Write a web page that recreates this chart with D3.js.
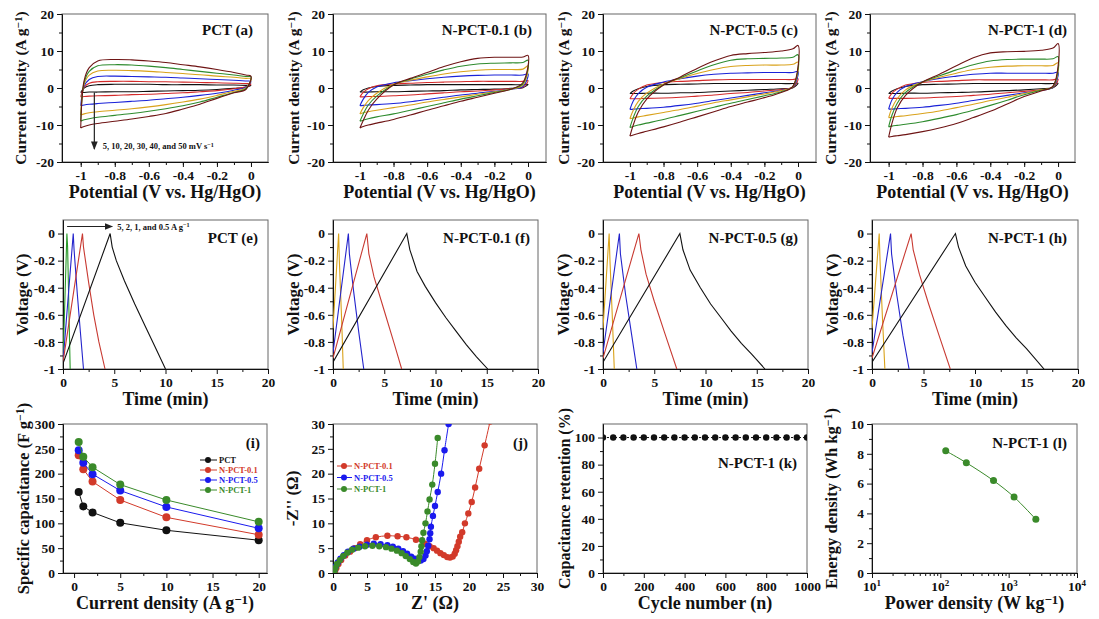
<!DOCTYPE html>
<html>
<head>
<meta charset="utf-8">
<script src="https://cdn.jsdelivr.net/npm/d3@7"></script>
<style>
  body { margin: 0; background: #fff; }
  text { font-family: "Liberation Serif", "Times New Roman", serif; font-weight: bold; }
</style>
</head>
<body>
<script>
// ---------- data ----------
// CV: potential grid (V vs Hg/HgO); anodic (up) and cathodic (down) current, order 5,10,20,30,40,50 mV/s
const cvE = [-1, -0.98, -0.95, -0.9, -0.8, -0.7, -0.6, -0.5, -0.4, -0.3, -0.2, -0.1, -0.03, 0];
const scanRates = [5, 10, 20, 30, 40, 50];

const cvPCT_up = [
  [-1.2, 0, 0.6, 0.9, 1.0, 1.0, 1.0, 0.9, 0.9, 0.9, 0.8, 0.8, 0.7, 0.7],
  [-2.4, 0.2, 1.3, 1.7, 1.8, 1.8, 1.7, 1.7, 1.6, 1.5, 1.4, 1.3, 1.2, 1.1],
  [-4.8, 0.5, 2.3, 3.1, 3.2, 3.1, 3.0, 2.9, 2.7, 2.5, 2.3, 2.1, 1.9, 1.8],
  [-7.3, 1.0, 3.5, 4.6, 4.8, 4.7, 4.5, 4.2, 3.9, 3.6, 3.2, 2.9, 2.6, 2.5],
  [-9.0, 1.5, 4.5, 6.0, 6.3, 6.2, 5.9, 5.5, 5.0, 4.5, 4.0, 3.5, 3.1, 3.0],
  [-10.8, 2.0, 5.5, 7.3, 7.7, 7.6, 7.3, 6.9, 6.3, 5.7, 5.0, 4.2, 3.5, 3.2]
];
const cvPCT_down = [
  [-1.2, -1.2, -1.1, -1.1, -1.0, -1.0, -0.9, -0.8, -0.7, -0.6, -0.4, -0.1, 0.2, 0.7],
  [-2.4, -2.3, -2.2, -2.1, -2.0, -1.8, -1.7, -1.5, -1.3, -1.0, -0.7, -0.2, 0.3, 1.1],
  [-4.8, -4.6, -4.4, -4.2, -3.9, -3.6, -3.3, -2.9, -2.5, -2.0, -1.4, -0.6, 0.2, 1.8],
  [-7.3, -7.0, -6.7, -6.4, -6.0, -5.6, -5.1, -4.5, -3.8, -3.0, -2.0, -0.9, 0.0, 2.5],
  [-9.0, -8.6, -8.3, -7.9, -7.4, -6.9, -6.3, -5.6, -4.8, -3.8, -2.5, -1.2, -0.2, 3.0],
  [-10.8, -10.4, -10.0, -9.6, -9.0, -8.4, -7.7, -6.9, -5.7, -4.4, -2.8, -1.3, -0.4, 3.2]
];

const cvN01_up = [
  [-1.1, -0.5, 0, 0.4, 0.7, 0.8, 0.9, 0.9, 0.9, 0.9, 0.9, 0.9, 0.9, 1.0],
  [-2.4, -1.2, -0.2, 0.6, 1.1, 1.3, 1.5, 1.6, 1.7, 1.8, 1.8, 1.8, 1.8, 2.0],
  [-4.8, -3.0, -1.2, 0.3, 1.4, 2.0, 2.5, 2.9, 3.2, 3.4, 3.5, 3.5, 3.5, 3.8],
  [-7.0, -5.3, -3.4, -1.4, 1.0, 2.1, 3.0, 3.8, 4.4, 4.8, 5.0, 5.0, 5.1, 6.0],
  [-9.0, -7.0, -4.6, -2.2, 0.9, 2.4, 3.7, 4.9, 5.9, 6.5, 6.7, 6.8, 6.9, 7.5],
  [-10.8, -8.8, -6.0, -3.0, 0.8, 2.6, 4.2, 5.8, 7.1, 8.0, 8.3, 8.3, 8.4, 8.8]
];
const cvN01_down = [
  [-1.1, -1.1, -1.1, -1.0, -1.0, -0.9, -0.8, -0.7, -0.5, -0.4, -0.3, -0.1, 0.1, 1.0],
  [-2.4, -2.4, -2.3, -2.3, -2.1, -1.9, -1.6, -1.3, -1.0, -0.8, -0.5, -0.2, 0.2, 2.0],
  [-4.8, -4.7, -4.6, -4.5, -4.2, -3.7, -3.1, -2.5, -1.9, -1.4, -0.9, -0.3, 0.4, 3.8],
  [-7.0, -6.7, -6.4, -6.0, -5.3, -4.6, -3.8, -3.1, -2.4, -1.7, -1.0, -0.3, 0.8, 6.0],
  [-9.0, -8.7, -8.3, -7.8, -7.0, -6.0, -5.0, -4.0, -3.0, -2.1, -1.2, -0.3, 1.2, 7.5],
  [-10.8, -10.4, -10.0, -9.5, -8.5, -7.3, -6.0, -4.8, -3.6, -2.5, -1.4, -0.3, 1.5, 8.8]
];

const cvN05_up = [
  [-1.5, -0.8, -0.2, 0.4, 0.9, 1.0, 1.1, 1.2, 1.2, 1.2, 1.2, 1.2, 1.2, 1.3],
  [-2.9, -1.5, -0.3, 0.8, 1.5, 1.8, 2.0, 2.2, 2.3, 2.3, 2.3, 2.3, 2.3, 2.5],
  [-5.8, -3.5, -1.5, 0.2, 1.6, 2.5, 3.2, 3.7, 4.0, 4.1, 4.2, 4.2, 4.2, 4.5],
  [-8.3, -6.0, -3.6, -1.4, 1.1, 2.6, 3.9, 5.0, 5.8, 6.1, 6.2, 6.2, 6.4, 7.0],
  [-10.7, -8.0, -5.0, -2.2, 0.9, 2.8, 4.6, 6.3, 7.5, 7.9, 8.0, 8.1, 8.3, 9.0],
  [-13.0, -10.0, -6.5, -3.0, 0.8, 3.0, 5.3, 7.3, 8.8, 9.3, 9.6, 10.0, 10.6, 11.5]
];
const cvN05_down = [
  [-1.5, -1.5, -1.5, -1.4, -1.4, -1.3, -1.2, -1.0, -0.8, -0.6, -0.4, -0.2, 0.1, 1.3],
  [-2.9, -2.9, -2.9, -2.8, -2.7, -2.5, -2.2, -1.9, -1.5, -1.2, -0.8, -0.4, 0.2, 2.5],
  [-5.8, -5.7, -5.6, -5.5, -5.2, -4.7, -4.1, -3.4, -2.7, -2.0, -1.3, -0.6, 0.3, 4.5],
  [-8.3, -8.1, -7.8, -7.4, -6.6, -5.8, -4.9, -4.0, -3.2, -2.4, -1.6, -0.7, 0.4, 7.0],
  [-10.7, -10.4, -10.0, -9.5, -8.5, -7.4, -6.3, -5.2, -4.1, -3.1, -2.1, -1.0, 0.4, 9.0],
  [-13.0, -12.7, -12.3, -11.7, -10.5, -9.2, -7.8, -6.4, -5.0, -3.8, -2.6, -1.2, 0.5, 11.5]
];

const cvN1_up = [
  [-1.5, -0.8, -0.2, 0.4, 0.9, 1.0, 1.1, 1.2, 1.2, 1.2, 1.2, 1.2, 1.2, 1.3],
  [-2.8, -1.4, -0.3, 0.8, 1.5, 1.8, 2.0, 2.2, 2.2, 2.2, 2.2, 2.2, 2.2, 2.4],
  [-5.7, -3.2, -1.2, 0.4, 1.7, 2.6, 3.2, 3.7, 4.0, 4.0, 4.0, 4.0, 4.0, 4.3],
  [-8.0, -5.4, -2.9, -0.5, 1.6, 2.9, 4.0, 5.0, 5.6, 5.9, 6.0, 6.0, 6.1, 6.8],
  [-10.5, -7.3, -4.2, -1.2, 1.6, 3.3, 4.9, 6.3, 7.3, 7.7, 7.8, 7.8, 7.9, 8.5],
  [-13.3, -9.5, -5.5, -2.0, 1.6, 3.7, 6.0, 8.2, 9.5, 9.8, 9.9, 10.2, 10.8, 12.0]
];
const cvN1_down = [
  [-1.5, -1.5, -1.5, -1.4, -1.4, -1.3, -1.2, -1.1, -0.9, -0.7, -0.5, -0.2, 0.1, 1.3],
  [-2.8, -2.8, -2.8, -2.8, -2.7, -2.5, -2.3, -2.0, -1.7, -1.3, -0.9, -0.5, 0.2, 2.4],
  [-5.7, -5.7, -5.6, -5.5, -5.2, -4.7, -4.1, -3.4, -2.7, -2.0, -1.3, -0.6, 0.2, 4.3],
  [-8.0, -7.9, -7.7, -7.5, -6.9, -6.2, -5.3, -4.4, -3.4, -2.5, -1.5, -0.5, 0.3, 6.8],
  [-10.5, -10.3, -10.1, -9.8, -9.1, -8.2, -7.2, -6.0, -4.7, -3.3, -1.8, -0.6, 0.4, 8.5],
  [-13.3, -13.1, -12.9, -12.6, -11.8, -10.8, -9.6, -8.0, -6.3, -4.3, -2.3, -0.8, 0.5, 12.0]
];

// GCD: time (min) and voltage (V), order 5, 2, 1, 0.5 A/g
const gcdCurrents = [5, 2, 1, 0.5];
const gcdPCT = [
  { t: [0, 0.38, 0.45, 0.7], v: [-0.95, 0, -0.1, -1] },
  { t: [0, 1.0, 1.08, 1.4, 1.7, 2.0], v: [-0.95, 0, -0.12, -0.45, -0.73, -1] },
  { t: [0, 1.9, 2.0, 2.5, 3.0, 3.5, 4.1], v: [-0.95, 0, -0.1, -0.36, -0.6, -0.8, -1] },
  { t: [0, 4.6, 4.8, 5.2, 6, 7, 8, 9, 10], v: [-0.96, 0, -0.1, -0.2, -0.35, -0.52, -0.68, -0.84, -1] }
];
const gcdN01 = [
  { t: [0, 0.55, 0.62, 0.85, 1.0], v: [-0.7, 0, -0.2, -0.65, -1] },
  { t: [0, 1.5, 1.6, 2.0, 2.5, 3.0], v: [-0.88, 0, -0.15, -0.42, -0.72, -1] },
  { t: [0, 3.3, 3.5, 4, 5, 6, 6.7], v: [-0.92, 0, -0.15, -0.32, -0.57, -0.82, -1] },
  { t: [0, 7.2, 7.5, 8.2, 9, 10, 11, 12, 13, 14, 15.1], v: [-0.95, 0, -0.12, -0.28, -0.39, -0.51, -0.62, -0.72, -0.82, -0.91, -1] }
];
const gcdN05 = [
  { t: [0, 0.6, 0.68, 0.9, 1.1], v: [-0.7, 0, -0.2, -0.6, -1] },
  { t: [0, 1.6, 1.7, 2.2, 2.8, 3.3], v: [-0.88, 0, -0.15, -0.45, -0.75, -1] },
  { t: [0, 3.5, 3.7, 4.2, 5, 6, 7.2], v: [-0.92, 0, -0.12, -0.3, -0.5, -0.73, -1] },
  { t: [0, 7.5, 7.8, 8.5, 9.5, 10.5, 11.5, 12.5, 13.5, 14.5, 15.8], v: [-0.95, 0, -0.12, -0.27, -0.4, -0.52, -0.62, -0.72, -0.81, -0.89, -1] }
];
const gcdN1 = [
  { t: [0, 0.7, 0.78, 1.0, 1.25], v: [-0.7, 0, -0.2, -0.6, -1] },
  { t: [0, 1.8, 1.9, 2.4, 3.0, 3.6], v: [-0.88, 0, -0.15, -0.45, -0.75, -1] },
  { t: [0, 3.8, 4.0, 4.6, 5.5, 6.5, 7.6], v: [-0.92, 0, -0.12, -0.3, -0.52, -0.75, -1] },
  { t: [0, 8.1, 8.4, 9.1, 10, 11, 12, 13, 14, 15, 16.7], v: [-0.95, 0, -0.1, -0.24, -0.36, -0.47, -0.58, -0.68, -0.77, -0.85, -1] }
];

// rate capability
const currentDensity = [0.5, 1, 2, 5, 10, 20];
const capPCT = [163, 134, 122, 101, 86, 66];
const capN01 = [237, 209, 184, 147, 112, 77];
const capN05 = [247, 222, 199, 166, 133, 90];
const capN1 = [264, 234, 213, 178, 147, 103];
const sampleNames = ["PCT", "N-PCT-0.1", "N-PCT-0.5", "N-PCT-1"];

// Nyquist [Z', -Z'']
const eisN01 = [[0.3,0.3],[0.5,1.0],[0.8,1.8],[1.2,2.6],[1.8,3.5],[2.5,4.3],[3.2,5.0],[4.0,5.8],[5.0,6.6],[6.3,7.2],[8.0,7.5],[9.5,7.4],[10.8,7.2],[12.2,6.7],[13.5,5.9],[14.2,5.4],[14.8,5.0],[15.3,4.5],[15.8,4.0],[16.3,3.6],[16.8,3.2],[17.2,3.1],[17.6,3.3],[17.9,3.9],[18.1,4.6],[18.3,5.4],[18.5,6.3],[18.7,7.3],[19.0,8.2],[19.4,10.0],[19.9,12.0],[20.4,14.3],[20.9,17.2],[21.5,21.0],[22.3,25.7],[23.1,30.5]];
const eisN05 = [[0.2,0.5],[0.4,1.3],[0.7,2.1],[1.1,2.9],[1.6,3.6],[2.2,4.3],[3.0,4.9],[3.9,5.3],[5.0,5.7],[6.0,5.9],[7.0,5.8],[8.0,5.6],[8.8,5.3],[9.6,4.9],[10.3,4.4],[10.9,3.9],[11.5,3.3],[12.0,2.9],[12.5,2.6],[12.9,2.5],[13.3,2.8],[13.6,3.5],[13.8,4.4],[14.0,5.5],[14.2,6.8],[14.3,8.0],[14.4,9.3],[14.7,11.5],[15.0,13.5],[15.4,16.3],[15.9,20.0],[16.4,24.7],[17.0,30.0]];
const eisN1 = [[0.2,0.3],[0.35,1.0],[0.6,1.8],[1.0,2.6],[1.5,3.4],[2.1,4.1],[2.8,4.7],[3.7,5.1],[4.7,5.4],[5.8,5.5],[6.8,5.4],[7.8,5.2],[8.6,4.9],[9.4,4.5],[10.1,4.0],[10.7,3.4],[11.3,2.8],[11.8,2.2],[12.2,1.9],[12.5,2.3],[12.7,3.2],[12.9,4.3],[13.0,5.4],[13.1,6.6],[13.3,8.1],[13.6,10.0],[13.9,12.4],[14.2,14.8],[14.6,17.8],[15.0,22.0],[15.4,27.2]];

// cycling
const cycles = [0, 50, 100, 150, 200, 250, 300, 350, 400, 450, 500, 550, 600, 650, 700, 750, 800, 850, 900, 950, 1000];
const retention = [100, 100, 100, 100, 100, 100, 100, 100, 100, 100, 100, 100, 100, 100, 100, 100, 100, 100, 100, 100, 100];

// Ragone
const powerDensity = [120, 240, 600, 1200, 2500];
const energyDensity = [8.2, 7.4, 6.2, 5.1, 3.6];

// ---------- drawing ----------
const cvColors = ["#111111", "#d42a2a", "#1a22d8", "#d9a21b", "#2e8b2e", "#6e1414"];
const gcdColors = ["#d9a21b", "#2424cc", "#c83a32", "#111111"];
const sampleColors = ["#111111", "#d23a2a", "#1a1aee", "#3a8a2a"];
const FONT = '"Liberation Serif", "Times New Roman", serif';

const svg = d3.select("body").append("svg").attr("width", 1099).attr("height", 619);
const defs = svg.append("defs");
defs.append("marker").attr("id", "arrow").attr("viewBox", "0 0 10 10")
  .attr("refX", 9).attr("refY", 5).attr("markerWidth", 7).attr("markerHeight", 7)
  .attr("orient", "auto-start-reverse")
  .append("path").attr("d", "M0,1 L10,5 L0,9 z").attr("fill", "#222");

let clipN = 0;
const fmtDash = d => String(d).replace("\u2212", "-");

function makePanel(box, xScale, yScale, o) {
  const g = svg.append("g");
  const x = xScale.range([box.l, box.r]);
  const y = yScale.range([box.b, box.t]);
  const id = "clip" + (clipN++);
  defs.append("clipPath").attr("id", id).append("rect")
    .attr("x", box.l).attr("y", box.t).attr("width", box.r - box.l).attr("height", box.b - box.t);

  g.append("rect").attr("x", box.l).attr("y", box.t)
    .attr("width", box.r - box.l).attr("height", box.b - box.t)
    .attr("fill", "none").attr("stroke", "#666").attr("stroke-width", 1);

  const style = s => s.attr("font-family", FONT).attr("font-size", 13.5).attr("font-weight", "bold")
    .call(a => a.selectAll("line,path").attr("stroke", "#111"))
    .call(a => a.selectAll("text").attr("fill", "#111"));

  if (o.xMinor) g.append("g").attr("transform", `translate(0,${box.b})`)
    .call(d3.axisBottom(x).tickValues(o.xMinor).tickSize(3).tickSizeOuter(0).tickFormat("")).call(style);
  g.append("g").attr("transform", `translate(0,${box.b})`)
    .call(d3.axisBottom(x).tickValues(o.xMajor).tickSize(5).tickSizeOuter(0).tickPadding(3)
      .tickFormat(o.xFmt || (d => fmtDash(d)))).call(style);
  if (o.yMinor) g.append("g").attr("transform", `translate(${box.l},0)`)
    .call(d3.axisLeft(y).tickValues(o.yMinor).tickSize(3).tickSizeOuter(0).tickFormat("")).call(style);
  g.append("g").attr("transform", `translate(${box.l},0)`)
    .call(d3.axisLeft(y).tickValues(o.yMajor).tickSize(5).tickSizeOuter(0).tickPadding(3)
      .tickFormat(d => fmtDash(d))).call(style);

  // titles
  const xt = g.append("text").attr("x", (box.l + box.r) / 2).attr("y", box.b + 36)
    .attr("text-anchor", "middle").attr("font-size", 18).attr("fill", "#111");
  rich(xt, o.xTitle);
  const yt = g.append("text")
    .attr("transform", `translate(${o.yTitleX},${(box.t + box.b) / 2}) rotate(-90)`)
    .attr("text-anchor", "middle").attr("dy", "0.35em").attr("font-size", o.yTitleSize || 16).attr("fill", "#111");
  rich(yt, o.yTitle);

  if (o.label) g.append("text").attr("x", o.label[1]).attr("y", o.label[2])
    .attr("text-anchor", "end").attr("font-size", 15).attr("fill", "#111").text(o.label[0]);

  const plot = g.append("g").attr("clip-path", `url(#${id})`);
  return { g, plot, x, y };
}

function rich(sel, parts) {
  let up = false;
  parts.forEach(p => {
    const t = sel.append("tspan").text(p[0]);
    if (p[1] === "sup") { t.attr("dy", "-0.4em").attr("font-size", "0.72em"); up = true; }
    else if (up) { t.attr("dy", "0.29em"); up = false; }
  });
}

const curA = [["Current density (A g", ""], ["\u22121", "sup"], [")", ""]];
const potT = [["Potential (V vs. Hg/HgO)", ""]];

// ---- row 1: CV ----
const cvPanels = [
  { box: { l: 62, r: 268, t: 14, b: 162 }, xd: [-1.11, 0.1], up: cvPCT_up, down: cvPCT_down, yx: 21, label: ["PCT (a)", 253, 35] },
  { box: { l: 333, r: 546, t: 14, b: 162 }, xd: [-1.16, 0.107], up: cvN01_up, down: cvN01_down, yx: 294, label: ["N-PCT-0.1 (b)", 532, 35] },
  { box: { l: 603, r: 816, t: 14, b: 162 }, xd: [-1.16, 0.107], up: cvN05_up, down: cvN05_down, yx: 564, label: ["N-PCT-0.5 (c)", 798, 35] },
  { box: { l: 870, r: 1075, t: 14, b: 162 }, xd: [-1.11, 0.1], up: cvN1_up, down: cvN1_down, yx: 831, label: ["N-PCT-1 (d)", 1067, 35] }
];
const cvLine = d3.line().curve(d3.curveCatmullRom.alpha(0.5));

cvPanels.forEach((c, pi) => {
  const p = makePanel(c.box, d3.scaleLinear().domain(c.xd), d3.scaleLinear().domain([-20, 20]), {
    xMajor: [-1, -0.8, -0.6, -0.4, -0.2, 0],
    xMinor: [-1, -0.9, -0.8, -0.7, -0.6, -0.5, -0.4, -0.3, -0.2, -0.1, 0],
    yMajor: [-20, -10, 0, 10, 20], yMinor: [-15, -5, 5, 15],
    xTitle: potT, yTitle: curA, yTitleX: c.yx, label: c.label, yTitleSize: 15.5
  });
  scanRates.forEach((r, i) => {
    const pts = cvE.map((e, k) => [p.x(e), p.y(c.up[i][k])]);
    for (let k = cvE.length - 2; k >= 0; k--) pts.push([p.x(cvE[k]), p.y(c.down[i][k])]);
    p.plot.append("path").attr("d", cvLine(pts)).attr("fill", "none")
      .attr("stroke", cvColors[i]).attr("stroke-width", 1.1);
  });
  if (pi === 0) {
    p.g.append("line").attr("x1", p.x(-0.92)).attr("x2", p.x(-0.92))
      .attr("y1", p.y(-1.2)).attr("y2", p.y(-16.5))
      .attr("stroke", "#222").attr("stroke-width", 1.2).attr("marker-end", "url(#arrow)");
    const t = p.g.append("text").attr("x", p.x(-0.87)).attr("y", p.y(-15.8) + 3)
      .attr("font-size", 8.5).attr("fill", "#111");
    rich(t, [["5, 10, 20, 30, 40, and 50 mV s", ""], ["\u22121", "sup"]]);
  }
});

// ---- row 2: GCD ----
const gcdPanels = [
  { box: { l: 63, r: 268, t: 220, b: 369 }, data: gcdPCT, yx: 22, first: "#2a9a2a", label: ["PCT (e)", 258, 243] },
  { box: { l: 333, r: 538, t: 220, b: 369 }, data: gcdN01, yx: 293, first: gcdColors[0], label: ["N-PCT-0.1 (f)", 530, 243] },
  { box: { l: 603, r: 808, t: 220, b: 369 }, data: gcdN05, yx: 563, first: gcdColors[0], label: ["N-PCT-0.5 (g)", 798, 243] },
  { box: { l: 872, r: 1078, t: 220, b: 369 }, data: gcdN1, yx: 832, first: gcdColors[0], label: ["N-PCT-1 (h)", 1067, 243] }
];
gcdPanels.forEach((c, pi) => {
  const p = makePanel(c.box, d3.scaleLinear().domain([0, 20]), d3.scaleLinear().domain([-1, 0.1]), {
    xMajor: [0, 5, 10, 15, 20], xMinor: [2.5, 7.5, 12.5, 17.5],
    yMajor: [-1, -0.8, -0.6, -0.4, -0.2, 0], yMinor: [-0.9, -0.7, -0.5, -0.3, -0.1],
    xTitle: [["Time (min)", ""]], yTitle: [["Voltage (V)", ""]], yTitleX: c.yx, label: c.label, yTitleSize: 17
  });
  const line = d3.line().x(d => p.x(d[0])).y(d => p.y(d[1])).curve(d3.curveLinear);
  c.data.forEach((s, i) => {
    p.plot.append("path").attr("d", line(s.t.map((t, k) => [t, s.v[k]])))
      .attr("fill", "none").attr("stroke", i === 0 ? c.first : gcdColors[i]).attr("stroke-width", 1.1);
  });
  if (pi === 0) {
    p.g.append("line").attr("x1", p.x(0.4)).attr("x2", p.x(4.8))
      .attr("y1", p.y(0.052)).attr("y2", p.y(0.052))
      .attr("stroke", "#222").attr("stroke-width", 1.2).attr("marker-end", "url(#arrow)");
    const t = p.g.append("text").attr("x", p.x(5.3)).attr("y", p.y(0.052) + 3)
      .attr("font-size", 8.5).attr("fill", "#111");
    rich(t, [["5, 2, 1, and 0.5 A g", ""], ["\u22121", "sup"]]);
  }
});

// ---- (i) rate capability ----
{
  const p = makePanel({ l: 63, r: 267, t: 424, b: 573 }, d3.scaleLinear().domain([-1.2, 20.9]), d3.scaleLinear().domain([0, 300]), {
    xMajor: [0, 5, 10, 15, 20], xMinor: [2.5, 7.5, 12.5, 17.5],
    yMajor: [0, 50, 100, 150, 200, 250, 300], yMinor: [25, 75, 125, 175, 225, 275],
    xTitle: [["Current density (A g", ""], ["\u22121", "sup"], [")", ""]],
    yTitle: [["Specific capacitance (F g", ""], ["\u22121", "sup"], [")", ""]], yTitleX: 23,
    label: ["(i)", 260, 448], yTitleSize: 16.5
  });
  const line = d3.line().x(d => p.x(d[0])).y(d => p.y(d[1]));
  [capPCT, capN01, capN05, capN1].forEach((s, i) => {
    const pts = currentDensity.map((c, k) => [c, s[k]]);
    p.plot.append("path").attr("d", line(pts)).attr("fill", "none").attr("stroke", sampleColors[i]).attr("stroke-width", 1);
    p.plot.selectAll(null).data(pts).join("circle").attr("cx", d => p.x(d[0])).attr("cy", d => p.y(d[1]))
      .attr("r", 4).attr("fill", sampleColors[i]);
  });
  sampleNames.forEach((n, i) => {
    const yy = 460 + i * 10;
    p.g.append("line").attr("x1", 200).attr("x2", 217).attr("y1", yy).attr("y2", yy).attr("stroke", sampleColors[i]);
    p.g.append("circle").attr("cx", 208).attr("cy", yy).attr("r", 3).attr("fill", sampleColors[i]);
    p.g.append("text").attr("x", 219).attr("y", yy + 3).attr("font-size", 8.5).attr("fill", sampleColors[i]).text(n);
  });
}

// ---- (j) Nyquist ----
{
  const p = makePanel({ l: 333, r: 537, t: 424, b: 573 }, d3.scaleLinear().domain([0, 30]), d3.scaleLinear().domain([0, 30]), {
    xMajor: [0, 5, 10, 15, 20, 25, 30], xMinor: [2.5, 7.5, 12.5, 17.5, 22.5, 27.5],
    yMajor: [0, 5, 10, 15, 20, 25, 30], yMinor: [2.5, 7.5, 12.5, 17.5, 22.5, 27.5],
    xTitle: [["Z' (\u03A9)", ""]], yTitle: [["-Z'' (\u03A9)", ""]], yTitleX: 292,
    label: ["(j)", 528, 448], yTitleSize: 17
  });
  const line = d3.line().x(d => p.x(d[0])).y(d => p.y(d[1])).curve(d3.curveCatmullRom.alpha(0.5));
  [eisN01, eisN05, eisN1].forEach((s, i) => {
    const col = sampleColors[i + 1];
    p.plot.append("path").attr("d", line(s)).attr("fill", "none").attr("stroke", col).attr("stroke-width", 1);
    p.plot.selectAll(null).data(s).join("circle").attr("cx", d => p.x(d[0])).attr("cy", d => p.y(d[1]))
      .attr("r", 3.2).attr("fill", col);
  });
  sampleNames.slice(1).forEach((n, i) => {
    const yy = 466 + i * 11.5;
    const col = sampleColors[i + 1];
    p.g.append("line").attr("x1", 337).attr("x2", 352).attr("y1", yy).attr("y2", yy).attr("stroke", col);
    p.g.append("circle").attr("cx", 344).attr("cy", yy).attr("r", 3).attr("fill", col);
    p.g.append("text").attr("x", 354).attr("y", yy + 3).attr("font-size", 8.5).attr("fill", col).text(n);
  });
}

// ---- (k) cycling ----
{
  const p = makePanel({ l: 603, r: 807, t: 424, b: 573 }, d3.scaleLinear().domain([0, 1000]), d3.scaleLinear().domain([0, 110]), {
    xMajor: [0, 200, 400, 600, 800, 1000], xMinor: [100, 300, 500, 700, 900],
    yMajor: [0, 20, 40, 60, 80, 100], yMinor: [10, 30, 50, 70, 90],
    xTitle: [["Cycle number  (n)", ""]], yTitle: [["Capacitance retention (%)", ""]], yTitleX: 564,
    label: ["N-PCT-1 (k)", 797, 468], yTitleSize: 16
  });
  const pts = cycles.map((c, k) => [c, retention[k]]);
  p.plot.append("path").attr("d", d3.line().x(d => p.x(d[0])).y(d => p.y(d[1]))(pts))
    .attr("fill", "none").attr("stroke", "#111").attr("stroke-width", 1).attr("stroke-dasharray", "2,2");
  p.plot.selectAll(null).data(pts).join("circle").attr("cx", d => p.x(d[0])).attr("cy", d => p.y(d[1]))
    .attr("r", 3.2).attr("fill", "#111");
}

// ---- (l) Ragone ----
{
  const box = { l: 872, r: 1077, t: 424, b: 573 };
  const minor = [];
  [10, 100, 1000].forEach(b => [2, 3, 4, 5, 6, 7, 8, 9].forEach(m => minor.push(b * m)));
  const p = makePanel(box, d3.scaleLog().domain([10, 10000]), d3.scaleLinear().domain([0, 10]), {
    xMajor: [10, 100, 1000, 10000], xMinor: minor, xFmt: () => "",
    yMajor: [0, 2, 4, 6, 8, 10], yMinor: [1, 3, 5, 7, 9],
    xTitle: [["Power density (W kg", ""], ["\u22121", "sup"], [")", ""]],
    yTitle: [["Energy density (Wh kg", ""], ["\u22121", "sup"], [")", ""]], yTitleX: 831,
    label: ["N-PCT-1 (l)", 1067, 448], yTitleSize: 16.5
  });
  [10, 100, 1000, 10000].forEach((v, i) => {
    const t = p.g.append("text").attr("x", p.x(v)).attr("y", box.b + 18).attr("text-anchor", "middle")
      .attr("font-size", 13.5).attr("fill", "#111");
    t.append("tspan").text("10");
    t.append("tspan").text(String(i + 1)).attr("dy", -5).attr("font-size", 9);
  });
  const pts = powerDensity.map((c, k) => [c, energyDensity[k]]);
  p.plot.append("path").attr("d", d3.line().x(d => p.x(d[0])).y(d => p.y(d[1])).curve(d3.curveCatmullRom)(pts))
    .attr("fill", "none").attr("stroke", "#3a8a2a").attr("stroke-width", 1);
  p.plot.selectAll(null).data(pts).join("circle").attr("cx", d => p.x(d[0])).attr("cy", d => p.y(d[1]))
    .attr("r", 3.5).attr("fill", "#3a8a2a");
}
</script>
</body>
</html>
